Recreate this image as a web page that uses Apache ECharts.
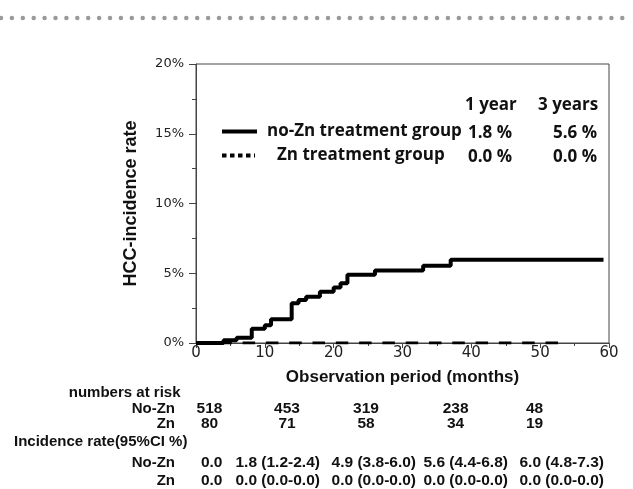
<!DOCTYPE html>
<html><head><meta charset="utf-8">
<script src="https://cdn.jsdelivr.net/npm/echarts@6/dist/echarts.min.js"></script>
<style>html,body{margin:0;padding:0;background:#fff}#c{width:633px;height:489px}</style>
</head><body><div id="c"></div>
<script>
// ---- data ----
const noZnMonths = [0, 4, 5.9, 8.1, 10, 10.9, 13.9, 14.9, 16, 18, 20, 21, 22, 26, 33, 37, 59.2];
const noZnRates  = [0, 0.19, 0.38, 1.03, 1.27, 1.7, 2.85, 3.09, 3.32, 3.68, 3.97, 4.28, 4.9, 5.19, 5.53, 5.96, 5.96];
const znMonths = [0, 54];
const znRates  = [0, 0];
const seriesNames = ['no-Zn treatment group', 'Zn treatment group'];
const summaryHeaders = ['1 year', '3 years'];
const summaryNoZn = ['1.8 %', '5.6 %'];
const summaryZn = ['0.0 %', '0.0 %'];
const groupLabels = ['No-Zn', 'Zn'];
const riskTitle = 'numbers at risk';
const riskNoZn = [518, 453, 319, 238, 48];
const riskZn = [80, 71, 58, 34, 19];
const incTitle = 'Incidence rate(95%CI %)';
const incNoZn = ['0.0', '1.8 (1.2-2.4)', '4.9 (3.8-6.0)', '5.6 (4.4-6.8)', '6.0 (4.8-7.3)'];
const incZn = ['0.0', '0.0 (0.0-0.0)', '0.0 (0.0-0.0)', '0.0 (0.0-0.0)', '0.0 (0.0-0.0)'];

// ---- layout (pixel positions of the text table) ----
const riskX = [209.5, 287, 366, 455.6, 534.5];
const incX = [211.7, 277.7, 373.8, 465.7, 561.7];
const summaryX = [465, 538];
const summaryValX = [468, 553];

const chart = echarts.init(document.getElementById('c'), null, {renderer: 'canvas'});
const AX = '#444';
const tableFont = {fontFamily: 'Liberation Sans', fontWeight: 'bold', fontSize: 15, fill: '#111'};
const cellFont = {fontFamily: 'Liberation Sans', fontWeight: 'bold', fontSize: 15.5, fill: '#111'};
const legFont = {fontFamily: 'Open Sans', fontWeight: 'bold', fontSize: 17, fill: '#111'};

function txt(text, x, y, font, align) {
  return {type: 'text', silent: true, style: Object.assign({text: String(text), x: x, y: y, align: align || 'left', verticalAlign: 'middle'}, font)};
}
const g = [];
// decorative dotted rule at top
g.push({type: 'line', silent: true, shape: {x1: 1, y1: 18, x2: 633, y2: 18},
  style: {stroke: '#9a9a9a', lineWidth: 4.5, lineDash: [0, 10.9], lineCap: 'round'}});
// summary table in plot
summaryHeaders.forEach((t, i) => g.push(txt(t, summaryX[i], 105, legFont)));
summaryNoZn.forEach((t, i) => g.push(txt(t, summaryValX[i], 133, legFont)));
summaryZn.forEach((t, i) => g.push(txt(t, summaryValX[i], 157, legFont)));
// risk table
g.push(txt(riskTitle, 180.5, 393, tableFont, 'right'));
g.push(txt(groupLabels[0], 175, 409, tableFont, 'right'));
g.push(txt(groupLabels[1], 175, 424, tableFont, 'right'));
riskNoZn.forEach((v, i) => g.push(txt(v, riskX[i], 409, cellFont, 'center')));
riskZn.forEach((v, i) => g.push(txt(v, riskX[i], 424, cellFont, 'center')));
g.push(txt(incTitle, 14, 442, tableFont, 'left'));
g.push(txt(groupLabels[0], 175, 463, tableFont, 'right'));
g.push(txt(groupLabels[1], 175, 481, tableFont, 'right'));
incNoZn.forEach((v, i) => g.push(txt(v, incX[i], 463, cellFont, 'center')));
incZn.forEach((v, i) => g.push(txt(v, incX[i], 481, cellFont, 'center')));

const legendText = {fontFamily: 'Open Sans', fontWeight: 'bold', fontSize: 17, color: '#111'};

chart.setOption({
  animation: false,
  backgroundColor: '#fff',
  grid: {left: 196, right: 24, top: 64, bottom: 146, show: true, borderColor: AX, borderWidth: 1, containLabel: false},
  legend: [
    {data: [{name: seriesNames[0], itemStyle: {opacity: 0}, lineStyle: {width: 4, color: '#000', type: 'solid'}}],
     left: 220, top: 123, padding: 0, itemWidth: 35, itemHeight: 14, selectedMode: false,
     textStyle: Object.assign({padding: [0, 0, 0, 5]}, legendText)},
    {data: [{name: seriesNames[1], itemStyle: {opacity: 0}, lineStyle: {width: 4, color: '#000', type: [4.5, 3.5]}}],
     left: 220, top: 147, padding: 0, itemWidth: 33, itemHeight: 14, selectedMode: false,
     textStyle: Object.assign({padding: [0, 0, 0, 17]}, legendText)}
  ],
  xAxis: {
    type: 'value', min: 0, max: 60, interval: 10,
    name: 'Observation period (months)', nameLocation: 'middle', nameGap: 26,
    nameTextStyle: {fontFamily: 'Liberation Sans', fontWeight: 'bold', fontSize: 17, color: '#111'},
    axisLine: {show: true, lineStyle: {color: AX, width: 1}},
    axisTick: {show: true, length: 5, lineStyle: {color: AX}},
    minorTick: {show: true, splitNumber: 2, length: 3, lineStyle: {color: AX}},
    splitLine: {show: false}, minorSplitLine: {show: false},
    axisLabel: {fontFamily: 'DejaVu Sans', fontSize: 15, color: '#222', margin: 3}
  },
  yAxis: {
    type: 'value', min: 0, max: 20, interval: 5,
    name: 'HCC-incidence rate', nameLocation: 'middle', nameGap: 56, nameRotate: 90,
    nameTextStyle: {fontFamily: 'Liberation Sans', fontWeight: 'bold', fontSize: 18, color: '#111'},
    axisLine: {show: true, lineStyle: {color: AX, width: 1}},
    axisTick: {show: true, length: 7, lineStyle: {color: AX}},
    minorTick: {show: true, splitNumber: 2, length: 4, lineStyle: {color: AX}},
    splitLine: {show: false}, minorSplitLine: {show: false},
    axisLabel: {fontFamily: 'DejaVu Sans', fontSize: 13, color: '#222', margin: 12, formatter: '{value}%'}
  },
  series: [
    {name: seriesNames[1], type: 'line', symbol: 'none', z: 2,
     data: znMonths.map((m, i) => [m, znRates[i]]),
     lineStyle: {color: '#000', width: 3, type: [12.5, 10.8]}},
    {name: seriesNames[0], type: 'line', step: 'end', symbol: 'none', z: 3,
     data: noZnMonths.map((m, i) => [m, noZnRates[i]]),
     lineStyle: {color: '#000', width: 4}}
  ],
  graphic: g
});
</script></body></html>
